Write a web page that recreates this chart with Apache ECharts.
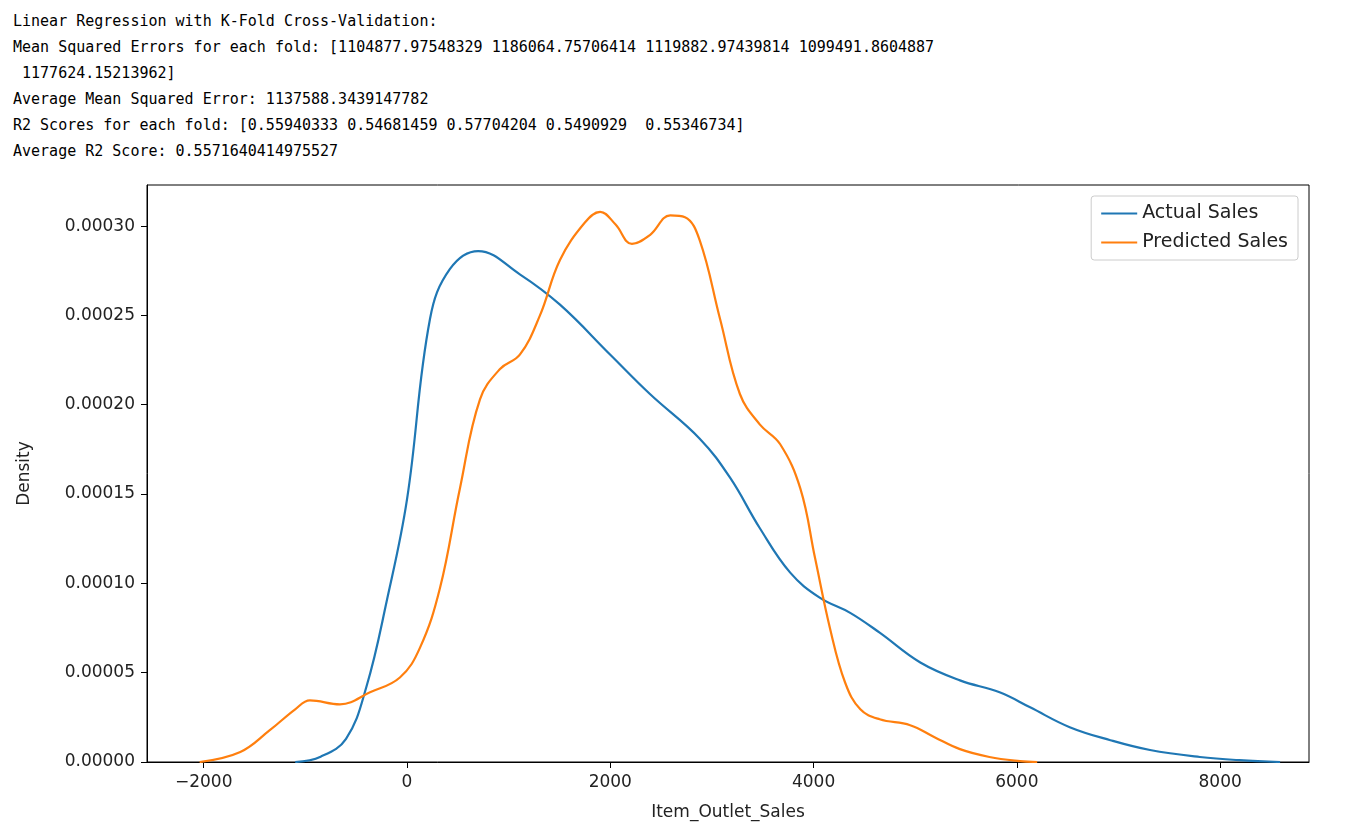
<!DOCTYPE html>
<html><head><meta charset="utf-8">
<script src="https://cdn.jsdelivr.net/npm/echarts@6/dist/echarts.min.js"></script>
<style>body{margin:0;background:#fff}#t{position:absolute;left:13px;top:8px;font:15px "DejaVu Sans Mono",monospace;line-height:26px;white-space:pre;color:#000}#c{width:1360px;height:826px}</style>
</head><body>
<div id="t">Linear Regression with K-Fold Cross-Validation:
Mean Squared Errors for each fold: [1104877.97548329 1186064.75706414 1119882.97439814 1099491.8604887
 1177624.15213962]
Average Mean Squared Error: 1137588.3439147782
R2 Scores for each fold: [0.55940333 0.54681459 0.57704204 0.5490929  0.55346734]
Average R2 Score: 0.5571640414975527</div>
<div id="c"></div>
<script>
const actualX=[-1100,-850,-600,-400,-200,0,226,423,700,1110,1505,2000,2390,2880,3180,3470,3770,4060,4360,4650,5050,5440,5830,6130,6520,6920,7310,7800,8190,8590];
const actualY=[0,0.000003,0.000013,0.000042,0.00009,0.000147,0.000248,0.000276,0.000286,0.000273,0.000256,0.000228,0.000206,0.000181,0.000159,0.000131,0.000106,0.000092,0.0000835,0.0000724,0.0000557,0.0000457,0.000039,0.0000306,0.0000195,0.0000122,0.0000067,0.0000028,0.000001,0];
const predX=[-2040,-1640,-1350,-1100,-955,-660,-364,-70,128,325,520,718,915,1110,1308,1505,1750,1900,2050,2213,2390,2590,2735,2880,3080,3275,3470,3670,3870,4015,4160,4310,4460,4650,4950,5190,5440,5730,6030,6200];
const predY=[0,0.0000056,0.0000178,0.0000295,0.0000345,0.0000323,0.000039,0.0000473,0.000064,0.0000975,0.000153,0.000203,0.00022,0.000228,0.00025,0.000281,0.000302,0.000308,0.000301,0.00029,0.000295,0.000306,0.000305,0.000292,0.000248,0.000206,0.000189,0.000178,0.000153,0.000114,0.0000752,0.0000445,0.0000295,0.0000239,0.0000206,0.0000139,0.0000072,0.0000028,0.0000005,0];
const xTicks=[-2000,0,2000,4000,6000,8000];
const yTicks=[0,0.00005,0.0001,0.00015,0.0002,0.00025,0.0003];
const ch=echarts.init(document.getElementById('c'));
const lbl={color:'#222',fontSize:17,fontFamily:'DejaVu Sans'};
ch.setOption({
 animation:false,
 grid:{left:147,top:185,width:1162,height:580,show:true,borderColor:'#000',borderWidth:1},
 legend:{right:62,top:196,orient:'vertical',itemWidth:36,itemHeight:2,itemGap:10,padding:[8,10],
  borderColor:'#ccc',borderWidth:1,borderRadius:3,textStyle:{fontSize:19,fontFamily:'DejaVu Sans',color:'#222'},
  icon:'rect',data:['Actual Sales','Predicted Sales']},
 xAxis:{type:'value',min:-2558,max:8874,name:'Item_Outlet_Sales',nameLocation:'middle',nameGap:42,
  nameTextStyle:lbl,axisLine:{onZero:false,lineStyle:{color:'#000'}},splitLine:{show:false},
  axisTick:{customValues:xTicks,length:6,lineStyle:{color:'#000'}},
  axisLabel:Object.assign({customValues:xTicks,margin:12,formatter:v=>String(v).replace('-','\u2212')},lbl)},
 yAxis:{type:'value',min:0,max:0.000323,name:'Density',nameLocation:'middle',nameGap:114,
  nameTextStyle:lbl,axisLine:{show:true,onZero:false,lineStyle:{color:'#000'}},splitLine:{show:false},
  axisTick:{show:true,customValues:yTicks,length:6,lineStyle:{color:'#000'}},
  axisLabel:Object.assign({customValues:yTicks,margin:12,formatter:v=>v.toFixed(5)},lbl)},
 series:[
  {name:'Actual Sales',type:'line',smooth:0.4,showSymbol:false,color:'#1f77b4',lineStyle:{width:2.2},data:actualX.map((x,i)=>[x,actualY[i]])},
  {name:'Predicted Sales',type:'line',smooth:0.4,showSymbol:false,color:'#ff7f0e',lineStyle:{width:2.2},data:predX.map((x,i)=>[x,predY[i]])}
 ]
});
</script></body></html>
